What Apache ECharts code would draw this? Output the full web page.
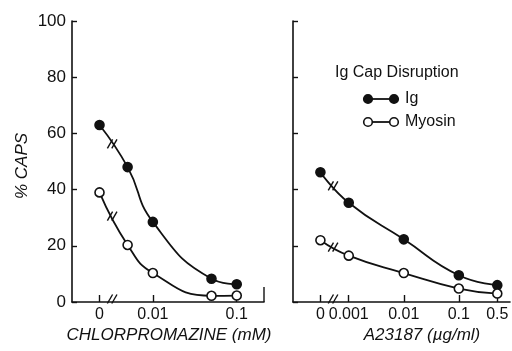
<!DOCTYPE html>
<html>
<head>
<meta charset="utf-8">
<script src="https://cdn.jsdelivr.net/npm/echarts@6/dist/echarts.min.js"></script>
<style>
html,body{margin:0;padding:0;background:#fff;}
#c{width:512px;height:351px;}
</style>
</head>
<body>
<div id="c"></div>
<script>
// ---- data ----
const leftConc    = [0, 0.005, 0.01, 0.05, 0.1];        // chlorpromazine, mM
const leftIg      = [63, 48, 28.5, 8.3, 6.3];
const leftMyosin  = [39, 20.3, 10.3, 2.2, 2.3];
const rightConc   = [0, 0.001, 0.01, 0.1, 0.5];          // A23187, ug/ml
const rightIg     = [46.2, 35.3, 22.3, 9.5, 6.0];
const rightMyosin = [22, 16.5, 10.3, 4.8, 3.0];
const leftTickLabels  = ['0', '0.01', '0.1'];
const rightTickLabels = ['0', '0.001', '0.01', '0.1', '0.5'];
const yTicks = [0, 20, 40, 60, 80, 100];
const yLabel = '% CAPS';
const leftName = 'CHLORPROMAZINE (mM)';
const rightName = 'A23187 (\u00b5g/ml)';
const legendTitle = 'Ig Cap Disruption';
const seriesNames = ['Ig', 'Myosin'];

// ---- broken log axes: where the "0" sits (in log10 units) ----
const leftZeroAt = -2.636, rightZeroAt = -3.515;
const leftBreakAt = -2.485, rightBreakAt = -3.285;
function pos(c, zeroAt){ return c === 0 ? zeroAt : Math.log10(c); }
function pts(conc, vals, zeroAt){ return conc.map((c,i)=>[pos(c,zeroAt), vals[i]]); }
const leftTickPos = leftTickLabels.map(t=>pos(parseFloat(t), leftZeroAt));
const rightTickPos = rightTickLabels.map(t=>pos(parseFloat(t), rightZeroAt));
function fmt(posArr, labArr){
  return v => { for (let i=0;i<posArr.length;i++) if (Math.abs(posArr[i]-v)<1e-6) return labArr[i]; return ''; };
}

const INK = '#111';
const FONT = 'Liberation Sans';

function xAxisCfg(gi, min, max, tp, tl){
  return {
    type:'value', gridIndex:gi, min:min, max:max,
    splitLine:{show:false},
    axisLine:{lineStyle:{color:INK, width:1.6}},
    axisTick:{show:true, inside:true, length:7, customValues:tp, lineStyle:{color:INK, width:1.4}},
    axisLabel:{customValues:tp, formatter:fmt(tp,tl), color:INK, fontFamily:FONT, fontSize:16, margin:5}
  };
}
function yAxisCfg(gi, showLabel){
  return {
    type:'value', gridIndex:gi, min:0, max:100, interval:20,
    splitLine:{show:false},
    axisLine:{show:true, lineStyle:{color:INK, width:1.6}},
    axisTick:{show:true, inside:true, length:5, lineStyle:{color:INK, width:1.4}},
    axisLabel:{show:showLabel, color:INK, fontFamily:FONT, fontSize:17, margin:6,
      formatter: v => yTicks.indexOf(v) >= 0 ? String(v) : ''}
  };
}
function lineSeries(name, gi, data, filled){
  return {
    type:'line', name:name, xAxisIndex:gi, yAxisIndex:gi, data:data,
    smooth:0.5, symbol:'circle', symbolSize:9, showSymbol:true,
    lineStyle:{color:INK, width:1.8},
    itemStyle:{color: filled ? INK : '#fff', borderColor:INK, borderWidth:1.6},
    z:3
  };
}

const chart = echarts.init(document.getElementById('c'), null, {renderer:'canvas'});
const option = {
  animation:false,
  backgroundColor:'#fff',
  grid:[
    {left:72, right:248, top:21, bottom:49},
    {left:293, right:2, top:21, bottom:49}
  ],
  xAxis:[
    xAxisCfg(0, -2.964, -0.675, leftTickPos, leftTickLabels),
    xAxisCfg(1, -4.013, -0.07, rightTickPos, rightTickLabels)
  ],
  yAxis:[ yAxisCfg(0, true), yAxisCfg(1, false) ],
  series:[
    lineSeries(seriesNames[0], 0, pts(leftConc, leftIg, leftZeroAt), true),
    lineSeries(seriesNames[1], 0, pts(leftConc, leftMyosin, leftZeroAt), false),
    lineSeries(seriesNames[0], 1, pts(rightConc, rightIg, rightZeroAt), true),
    lineSeries(seriesNames[1], 1, pts(rightConc, rightMyosin, rightZeroAt), false)
  ]
};
chart.setOption(option);

// ---- decorations: axis names, break marks, legend ----
function px(gi, x, y){ return chart.convertToPixel({xAxisIndex:gi, yAxisIndex:gi}, [x, y]); }
function breakMark(cx, cy){
  const els = [];
  [-2.2, 2.2].forEach(d=>{
    els.push({type:'line', shape:{x1:cx+d-2.6, y1:cy+4.5, x2:cx+d+2.6, y2:cy-4.5},
      style:{stroke:INK, lineWidth:1.4}, z:10});
  });
  return els;
}
function curveBreak(gi, conc, vals, zeroAt, breakAt){
  const a = px(gi, zeroAt, vals[0]);
  const b = px(gi, pos(conc[1], zeroAt), vals[1]);
  const bx = px(gi, breakAt, 0)[0];
  const t = (bx - a[0]) / (b[0] - a[0]);
  return breakMark(bx, a[1] + t*(b[1]-a[1]));
}
const g = [];
// axis breaks
const lb = px(0, leftBreakAt, 0); g.push(...breakMark(lb[0], lb[1]-3));
const rb = px(1, rightBreakAt, 0); g.push(...breakMark(rb[0], rb[1]-3));
// curve breaks
g.push(...curveBreak(0, leftConc, leftIg, leftZeroAt, leftBreakAt));
g.push(...curveBreak(0, leftConc, leftMyosin, leftZeroAt, leftBreakAt));
g.push(...curveBreak(1, rightConc, rightIg, rightZeroAt, rightBreakAt));
g.push(...curveBreak(1, rightConc, rightMyosin, rightZeroAt, rightBreakAt));
// right end tick of left panel x axis
const le = px(0, -0.675, 0);
g.push({type:'line', shape:{x1:le[0], y1:le[1], x2:le[0], y2:le[1]-15}, style:{stroke:INK, lineWidth:1.4}});
// axis titles
g.push({type:'text', x:22, y:166, rotation:Math.PI/2,
  style:{text:yLabel, font:'italic 17px "Liberation Sans"', fill:INK, align:'center', verticalAlign:'middle'}});
g.push({type:'text', x:169, y:335,
  style:{text:leftName, font:'italic 17px "Liberation Sans"', fill:INK, align:'center', verticalAlign:'middle'}});
g.push({type:'text', x:422, y:335,
  style:{text:rightName, font:'italic 17px "Liberation Sans"', fill:INK, align:'center', verticalAlign:'middle'}});
// legend
g.push({type:'text', x:335, y:73,
  style:{text:legendTitle, font:'16px "Liberation Sans"', fill:INK, align:'left', verticalAlign:'middle'}});
[[99, true, seriesNames[0]], [122, false, seriesNames[1]]].forEach(([yy, filled, name])=>{
  g.push({type:'line', shape:{x1:368, y1:yy, x2:394, y2:yy}, style:{stroke:INK, lineWidth:1.8}});
  [368, 394].forEach(xx=>{
    g.push({type:'circle', shape:{cx:xx, cy:yy, r:4.3}, style:{fill: filled?INK:'#fff', stroke:INK, lineWidth:1.6}, z:5});
  });
  g.push({type:'text', x:405, y:yy,
    style:{text:name, font:'16px "Liberation Sans"', fill:INK, align:'left', verticalAlign:'middle'}});
});
chart.setOption({graphic:{elements:g}});
</script>
</body>
</html>
